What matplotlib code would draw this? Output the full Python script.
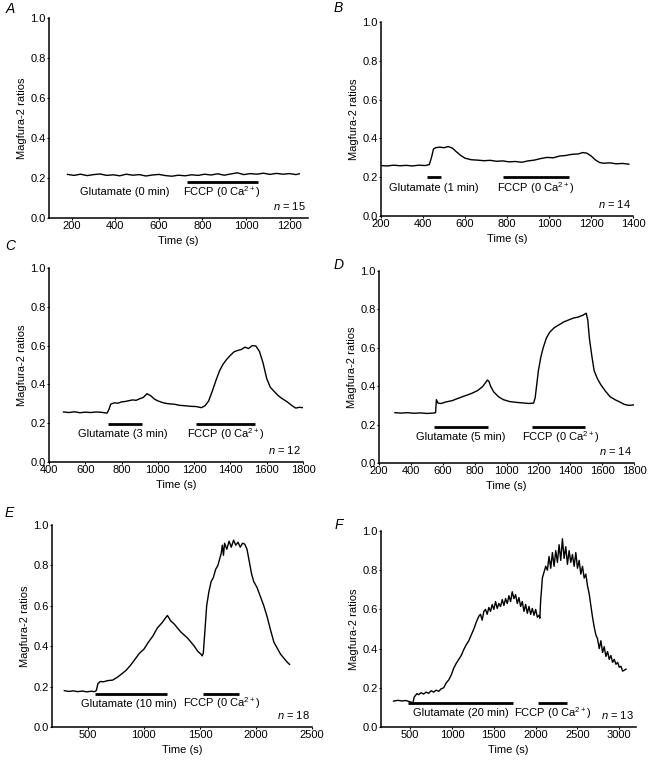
import matplotlib
matplotlib.use("Agg")
from matplotlib import pyplot as plt

plt.rcParams['font.family'] = ['Liberation Sans', 'DejaVu Sans']
plt.rcParams['mathtext.fontset'] = 'custom'
plt.rcParams['mathtext.rm'] = 'Liberation Sans'
plt.rcParams['mathtext.it'] = 'Liberation Sans:italic'

# ---- data (time in s, Magfura-2 ratio) ----
A_trace = [(180, .218), (210, .213), (240, .219), (270, .212), (300, .217), (330, .220), (360, .213),
           (390, .216), (420, .211), (450, .219), (480, .214), (510, .217), (540, .210), (570, .215),
           (600, .218), (630, .212), (660, .209), (690, .214), (720, .211), (750, .216), (780, .213),
           (810, .219), (840, .215), (870, .221), (900, .214), (930, .220), (960, .226), (990, .217),
           (1020, .222), (1050, .219), (1080, .224), (1110, .218), (1140, .223), (1170, .219),
           (1200, .222), (1230, .217), (1245, .221)]

B_trace = [(200, .260), (230, .258), (260, .262), (290, .259), (320, .261), (350, .258), (380, .262),
           (410, .260), (430, .265), (440, .300), (450, .345), (460, .352), (480, .355), (500, .352),
           (520, .358), (540, .350), (560, .330), (580, .312), (600, .298), (630, .290), (660, .288),
           (690, .285), (720, .287), (750, .282), (780, .284), (810, .279), (840, .281), (870, .277),
           (900, .284), (930, .288), (960, .296), (990, .302), (1020, .300), (1050, .309), (1080, .312),
           (1110, .318), (1140, .320), (1160, .327), (1180, .324), (1200, .310), (1220, .290),
           (1240, .276), (1260, .272), (1290, .274), (1320, .269), (1350, .271), (1380, .267)]

C_trace = [(480, .258), (510, .255), (540, .259), (570, .254), (600, .257), (630, .255), (660, .258),
           (690, .256), (720, .252), (730, .270), (740, .298), (760, .305), (780, .303), (800, .310),
           (820, .312), (840, .316), (860, .320), (880, .318), (900, .326), (920, .333), (940, .352),
           (960, .342), (980, .325), (1000, .315), (1030, .305), (1060, .300), (1090, .298), (1120, .292),
           (1150, .290), (1180, .287), (1210, .286), (1240, .280), (1260, .290), (1280, .315), (1300, .365),
           (1320, .420), (1340, .470), (1360, .505), (1380, .530), (1400, .550), (1420, .568), (1440, .575),
           (1460, .580), (1480, .592), (1500, .585), (1520, .600), (1540, .598), (1560, .570), (1580, .510),
           (1600, .430), (1620, .385), (1640, .365), (1660, .345), (1680, .330), (1700, .318), (1720, .305),
           (1740, .290), (1760, .278), (1780, .282), (1800, .280)]

D_trace = [(300, .262), (340, .260), (380, .262), (420, .259), (460, .261), (500, .258), (540, .260),
           (555, .262), (560, .330), (570, .312), (590, .310), (620, .318), (660, .325), (700, .338),
           (740, .350), (780, .362), (820, .378), (850, .398), (870, .420), (880, .432), (890, .425),
           (900, .400), (920, .370), (950, .345), (980, .330), (1020, .320), (1060, .316), (1100, .313),
           (1140, .310), (1170, .312), (1180, .340), (1190, .410), (1200, .480), (1215, .550), (1230, .600),
           (1250, .650), (1270, .680), (1300, .705), (1330, .720), (1360, .735), (1390, .745), (1420, .755),
           (1450, .760), (1480, .770), (1500, .780), (1510, .745), (1520, .650), (1535, .560), (1550, .480),
           (1570, .440), (1590, .410), (1620, .375), (1650, .345), (1680, .330), (1710, .318), (1740, .305),
           (1770, .300), (1800, .303)]

E_trace = [(290, .180), (330, .176), (370, .179), (410, .175), (450, .178), (490, .174), (530, .177),
           (560, .175), (575, .180), (590, .215), (610, .225), (640, .224), (680, .230), (720, .232),
           (760, .245), (800, .262), (840, .280), (880, .305), (920, .335), (960, .365), (1000, .385),
           (1040, .420), (1080, .450), (1120, .490), (1160, .515), (1200, .545), (1210, .552), (1240, .525),
           (1270, .510), (1300, .490), (1330, .470), (1360, .455), (1390, .440), (1420, .420), (1450, .400),
           (1480, .375), (1510, .360), (1520, .352), (1530, .365), (1545, .480), (1560, .600), (1580, .670),
           (1600, .720), (1620, .740), (1640, .780), (1660, .800), (1680, .840), (1690, .860), (1700, .900),
           (1710, .850), (1720, .910), (1740, .880), (1760, .920), (1780, .890), (1800, .925), (1820, .900),
           (1840, .915), (1860, .890), (1880, .910), (1900, .905), (1920, .880), (1940, .820), (1960, .760),
           (1980, .720), (2010, .690), (2040, .645), (2070, .600), (2100, .545), (2130, .480), (2160, .420),
           (2190, .390), (2220, .360), (2250, .340), (2280, .320), (2300, .310)]

F_trace = [(300, .132), (350, .136), (400, .133), (450, .135), (500, .128), (520, .125), (530, .118),
           (545, .150), (560, .160), (580, .170), (600, .165), (630, .175), (660, .168), (690, .178),
           (720, .172), (750, .185), (780, .178), (810, .188), (840, .182), (870, .195), (900, .200),
           (930, .225), (960, .240), (990, .265), (1020, .300), (1050, .325), (1080, .345), (1110, .365),
           (1140, .395), (1170, .420), (1200, .440), (1230, .470), (1260, .500), (1290, .535), (1320, .565),
           (1340, .575), (1360, .545), (1380, .590), (1400, .600), (1420, .575), (1440, .610), (1460, .590),
           (1480, .625), (1500, .600), (1520, .640), (1540, .605), (1560, .630), (1580, .615), (1600, .650),
           (1620, .620), (1640, .655), (1660, .630), (1680, .670), (1700, .640), (1720, .690), (1740, .655),
           (1760, .675), (1780, .630), (1800, .660), (1820, .615), (1840, .640), (1860, .590), (1880, .625),
           (1900, .580), (1920, .615), (1940, .575), (1960, .605), (1980, .570), (2000, .600), (2020, .560),
           (2040, .570), (2050, .555), (2060, .650), (2070, .700), (2080, .760), (2100, .790), (2120, .820),
           (2140, .800), (2160, .870), (2180, .810), (2200, .890), (2220, .820), (2240, .900), (2260, .840),
           (2280, .930), (2300, .850), (2320, .960), (2340, .860), (2360, .920), (2380, .830), (2400, .900),
           (2420, .840), (2440, .880), (2460, .820), (2480, .890), (2500, .810), (2520, .850), (2540, .780),
           (2560, .820), (2580, .760), (2600, .780), (2620, .720), (2640, .680), (2660, .620), (2680, .560),
           (2700, .510), (2720, .470), (2740, .450), (2760, .400), (2780, .440), (2800, .380), (2820, .410),
           (2840, .360), (2860, .385), (2880, .345), (2900, .365), (2920, .330), (2940, .345), (2960, .320),
           (2980, .330), (3000, .305), (3020, .310), (3040, .285), (3060, .290), (3080, .295)]

traces = [A_trace, B_trace, C_trace, D_trace, E_trace, F_trace]
letters = ['A', 'B', 'C', 'D', 'E', 'F']
glu_labels = ['Glutamate (0 min)', 'Glutamate (1 min)', 'Glutamate (3 min)',
              'Glutamate (5 min)', 'Glutamate (10 min)', 'Glutamate (20 min)']
n_cells = [15, 14, 12, 14, 18, 13]
# application bars: (start, end, y) ; None = no bar
glu_bars = [None, (420, 485, .202), (725, 914, .198), (548, 882, .19), (565, 1205, .165), (472, 1726, .123)]
fccp_bars = [(728, 1055, .18), (780, 1093, .202), (1212, 1533, .198), (1162, 1490, .19),
             (1524, 1851, .165), (2025, 2375, .123)]
glu_text_x = [441, 450, 808, 714, 863, 1101]
fccp_text_x = [890, 935, 1374, 1339, 1696, 2204]
label_y = [.128, .142, .146, .135, .116, .073]
xlims = [(95, 1285), (200, 1400), (400, 1800), (200, 1800), (180, 2500), (150, 3200)]
xticks = [range(200, 1201, 200), range(200, 1401, 200), range(400, 1801, 200),
          range(200, 1801, 200), range(500, 2501, 500), range(500, 3001, 500)]

W, H = 663, 762
# axes boxes in pixels: left, right, top, bottom
boxes = [(49, 308, 18, 218), (381, 633, 22, 216), (49, 303, 268, 462),
         (379, 634, 271, 463), (52, 312, 525, 727), (381, 636, 531, 727)]
letter_pos = [(10, 9), (338, 8), (10, 246), (339, 265), (9, 513), (339, 525)]

fig = plt.figure(figsize=(W / 100, H / 100), dpi=100)

for i in range(6):
    l, r, t, b = boxes[i]
    ax = fig.add_axes([l / W, 1 - b / H, (r - l) / W, (b - t) / H])
    xs = [p[0] for p in traces[i]]
    ys = [p[1] for p in traces[i]]
    ax.plot(xs, ys, color='black', lw=1.0)

    if glu_bars[i] is not None:
        s, e, yb = glu_bars[i]
        ax.plot([s, e], [yb, yb], color='black', lw=2, solid_capstyle='butt')
    s, e, yb = fccp_bars[i]
    ax.plot([s, e], [yb, yb], color='black', lw=2, solid_capstyle='butt')

    ax.text(glu_text_x[i], label_y[i], glu_labels[i], ha='center', va='center', fontsize=8)
    ax.text(fccp_text_x[i], label_y[i], r'FCCP (0 Ca$^{2+}$)', ha='center', va='center', fontsize=8)
    ax.text(0.99, 0.03, r'$\it{n}$ = %d' % n_cells[i], transform=ax.transAxes,
            ha='right', va='bottom', fontsize=8)

    ax.set_xlim(*xlims[i])
    ax.set_ylim(0, 1.0)
    ax.set_xticks(list(xticks[i]))
    ax.set_yticks([0, .2, .4, .6, .8, 1.0])
    ax.set_yticklabels(['0.0', '0.2', '0.4', '0.6', '0.8', '1.0'])
    ax.tick_params(labelsize=8, length=1.5, width=0.8, pad=1)
    for sp in ['top', 'right']:
        ax.spines[sp].set_visible(False)
    for sp in ['left', 'bottom']:
        ax.spines[sp].set_linewidth(1.1)
    ax.set_xlabel('Time (s)', fontsize=8, labelpad=3)
    ax.set_ylabel('Magfura-2 ratios', fontsize=8, labelpad=2)

    lx, ly = letter_pos[i]
    fig.text(lx / W, 1 - ly / H, letters[i], fontsize=10, style='italic', ha='center', va='center')

fig.savefig('out.png', dpi=100)
